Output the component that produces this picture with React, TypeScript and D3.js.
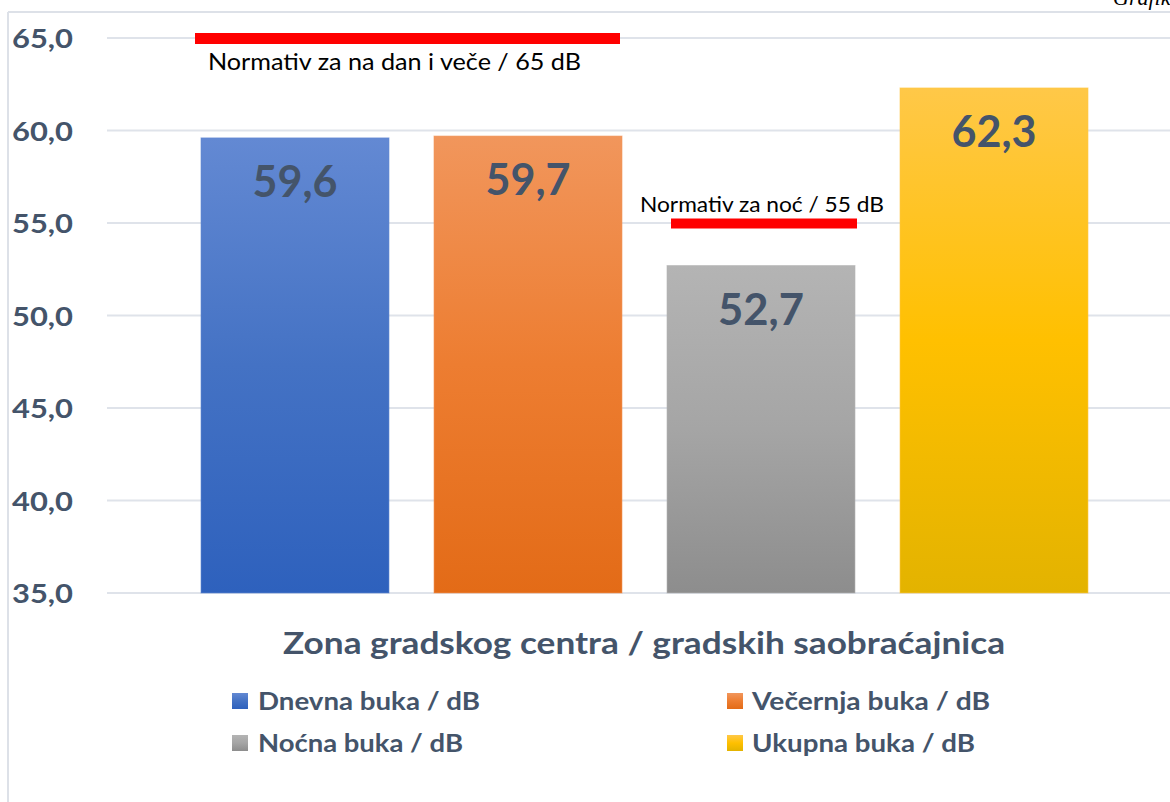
import React from "react";
import * as d3 from "d3";

const seriesNames = ["Dnevna buka / dB", "Večernja buka / dB", "Noćna buka / dB", "Ukupna buka / dB"];
const seriesValues = [59.6, 59.7, 52.7, 62.3];
const categoryLabel = "Zona gradskog centra / gradskih saobraćajnica";
const yTicks = [35, 40, 45, 50, 55, 60, 65];
const normLabels = ["Normativ za na dan i veče / 65 dB", "Normativ za noć / 55 dB"];
const normValues = [65, 55];
const normFrom = ["Dnevna buka / dB", "Noćna buka / dB"];
const normTo = ["Večernja buka / dB", "Noćna buka / dB"];

const gradTop = ["#6389d3", "#f1965c", "#b4b4b4", "#ffc848"];
const gradMid = ["#4472c4", "#ed7d31", "#a5a5a5", "#ffc000"];
const gradBot = ["#2e61bd", "#e36b17", "#8d8d8d", "#e3b300"];

const W = 1170;
const H = 802;
const TEXT = "#44546a";
const FONT = "Lato, 'Open Sans', sans-serif";

const fmt = (v: number) => d3.format(".1f")(v).replace(".", ",");

export default function App() {
  const y = d3.scaleLinear().domain([35, 65]).range([593, 38]);
  const x = d3
    .scaleBand<string>()
    .domain(seriesNames)
    .range([178.5, 1110.5])
    .paddingInner(45 / 233)
    .paddingOuter(22.5 / 233);
  const bw = x.bandwidth();

  const legendPos = [
    { sx: 232, tx: 258, ty: 710, w: 222 },
    { sx: 727, tx: 752, ty: 710, w: 238 },
    { sx: 232, tx: 258, ty: 752, w: 205 },
    { sx: 727, tx: 752, ty: 752, w: 223 },
  ];
  const labelWidths = [85, 85, 86, 85];
  const normText = [
    { x: 208, y: 70, w: 373, fs: 23 },
    { x: 640, y: 212, w: 244, fs: 21 },
  ];
  const normOffsets = [
    [-6, -2, 11],
    [4, 2, 10],
  ];

  return (
    <div style={{ position: "absolute", left: 0, top: 0 }}>
      <svg width={W} height={H} style={{ display: "block", background: "#fff" }}>
        <defs>
          {seriesNames.map((s, i) => (
            <linearGradient key={s} id={`g${i}`} x1="0" y1="0" x2="0" y2="1">
              <stop offset="0%" stopColor={gradTop[i]} />
              <stop offset="50%" stopColor={gradMid[i]} />
              <stop offset="100%" stopColor={gradBot[i]} />
            </linearGradient>
          ))}
        </defs>
        <text x={1113} y={5} fontFamily="'Liberation Serif', serif" fontStyle="italic" fontSize={22} fill="#000">
          Grafikon
        </text>
        {/* frame */}
        <line x1={8} y1={12} x2={W} y2={12} stroke="#dde1e8" strokeWidth={2} />
        <line x1={8} y1={12} x2={8} y2={H} stroke="#dde1e8" strokeWidth={2} />
        {/* gridlines */}
        {yTicks.map((t) => (
          <line key={t} x1={107} x2={W} y1={y(t)} y2={y(t)} stroke="#dfe3ea" strokeWidth={2} />
        ))}
        {/* y tick labels */}
        {yTicks.map((t) => (
          <text
            key={t}
            x={73}
            y={y(t) + 10}
            textAnchor="end"
            fontFamily={FONT}
            fontWeight={700}
            fontSize={27}
            fill={TEXT}
            textLength={61}
            lengthAdjust="spacingAndGlyphs"
          >
            {fmt(t)}
          </text>
        ))}
        {/* bars */}
        {seriesNames.map((s, i) => (
          <rect
            key={s}
            x={x(s)}
            y={y(seriesValues[i])}
            width={bw}
            height={y(35) - y(seriesValues[i])}
            fill={`url(#g${i})`}
            stroke={gradTop[i]}
            strokeOpacity={0.6}
            strokeWidth={1}
          />
        ))}
        {/* data labels */}
        {seriesNames.map((s, i) => (
          <text
            key={s}
            x={(x(s) as number) + bw / 2}
            y={y(seriesValues[i]) + 59}
            textAnchor="middle"
            fontFamily={FONT}
            fontWeight={700}
            fontSize={43}
            fill={TEXT}
            textLength={labelWidths[i]}
            lengthAdjust="spacingAndGlyphs"
          >
            {fmt(seriesValues[i])}
          </text>
        ))}
        {/* normative lines */}
        {normValues.map((v, i) => (
          <g key={i}>
            <line
              x1={(x(normFrom[i]) as number) + normOffsets[i][0]}
              x2={(x(normTo[i]) as number) + bw + normOffsets[i][1]}
              y1={y(v) + 0.5}
              y2={y(v) + 0.5}
              stroke="#ff0000"
              strokeWidth={normOffsets[i][2]}
            />
            <text
              x={normText[i].x}
              y={normText[i].y}
              fontFamily={FONT}
              fontSize={normText[i].fs}
              fill="#000"
              textLength={normText[i].w}
              lengthAdjust="spacingAndGlyphs"
            >
              {normLabels[i]}
            </text>
          </g>
        ))}
        {/* category axis title */}
        <text
          x={644}
          y={654}
          textAnchor="middle"
          fontFamily={FONT}
          fontWeight={700}
          fontSize={31}
          fill={TEXT}
          textLength={722}
          lengthAdjust="spacingAndGlyphs"
        >
          {categoryLabel}
        </text>
        {/* legend */}
        {seriesNames.map((s, i) => (
          <g key={s}>
            <rect x={legendPos[i].sx} y={legendPos[i].ty - 17} width={16} height={16} fill={`url(#g${i})`} />
            <text
              x={legendPos[i].tx}
              y={legendPos[i].ty}
              fontFamily={FONT}
              fontWeight={700}
              fontSize={25}
              fill={TEXT}
              textLength={legendPos[i].w}
              lengthAdjust="spacingAndGlyphs"
            >
              {s}
            </text>
          </g>
        ))}
      </svg>
    </div>
  );
}
